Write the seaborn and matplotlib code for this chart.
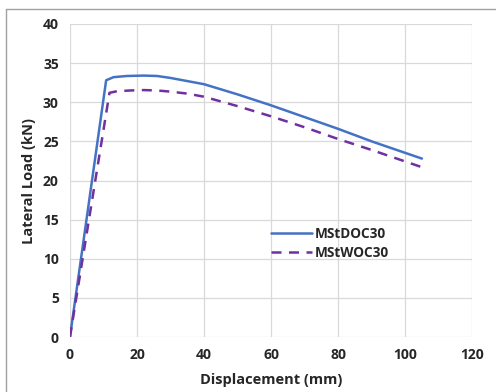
import matplotlib
matplotlib.use("Agg")
import matplotlib.pyplot as plt
from matplotlib.lines import Line2D
import seaborn as sns
import pandas as pd

# load-displacement curves
disp_doc = [0, 10.8, 13, 17, 22, 26, 30, 35, 40, 50, 60, 70, 80, 90, 105]
load_doc = [0, 32.8, 33.2, 33.35, 33.4, 33.35, 33.1, 32.7, 32.3, 31.0, 29.6, 28.1, 26.6, 25.0, 22.8]

disp_woc = [0, 11.8, 14, 18, 22, 26, 30, 35, 40, 50, 60, 70, 80, 90, 105]
load_woc = [0, 31.2, 31.4, 31.5, 31.55, 31.5, 31.35, 31.1, 30.7, 29.5, 28.2, 26.8, 25.3, 23.9, 21.7]

series_names = ["MStDOC30", "MStWOC30"]
x_ticks = [0, 20, 40, 60, 80, 100, 120]
y_ticks = [0, 5, 10, 15, 20, 25, 30, 35, 40]

sns.set_style("whitegrid")
plt.rcParams['font.family'] = ['Open Sans', 'DejaVu Sans']

fig = plt.figure(figsize=(4.96, 3.92), dpi=100)
ax = fig.add_axes([0.141, 0.140, 0.811, 0.799])

df_doc = pd.DataFrame({"x": disp_doc, "y": load_doc})
df_woc = pd.DataFrame({"x": disp_woc, "y": load_woc})

sns.lineplot(data=df_doc, x="x", y="y", ax=ax, color="#4472C4", linewidth=1.8,
             sort=False, label=series_names[0])
sns.lineplot(data=df_woc, x="x", y="y", ax=ax, color="#7030A0", linewidth=1.8,
             linestyle=(0, (4, 3)), sort=False, label=series_names[1])

ax.set_xlim(0, 120)
ax.set_ylim(0, 40)
ax.set_xticks(x_ticks)
ax.set_yticks(y_ticks)
ax.grid(True, color="#d9d9d9", linewidth=0.9)
for s in ax.spines.values():
    s.set_visible(False)
ax.tick_params(axis="both", length=0, labelsize=10, pad=8)
for lab in ax.get_xticklabels() + ax.get_yticklabels():
    lab.set_fontweight("bold")

ax.set_xlabel("Displacement (mm)", fontsize=10.5, fontweight="bold", labelpad=8)
ax.set_ylabel("Lateral Load (kN)", fontsize=10.5, fontweight="bold", labelpad=5)

leg = ax.legend(loc="center left", bbox_to_anchor=(0.47, 0.3), frameon=False,
                handlelength=3.0, handletextpad=0.2, labelspacing=0.35,
                prop={"size": 9.8, "weight": "bold"})

# gray border of the cropped screenshot
fig.add_artist(Line2D([6 / 496, 1], [1 - 9 / 392, 1 - 9 / 392],
                      transform=fig.transFigure, color="#a0a0a0", linewidth=1))
fig.add_artist(Line2D([6 / 496, 6 / 496], [0, 1 - 9 / 392],
                      transform=fig.transFigure, color="#a0a0a0", linewidth=1))

fig.savefig("out.png", dpi=100)
